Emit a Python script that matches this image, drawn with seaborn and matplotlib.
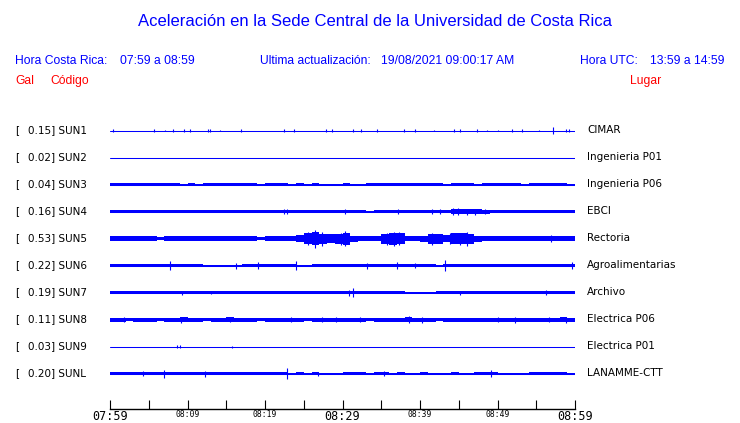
import numpy as np
import pandas as pd
import matplotlib
matplotlib.use("Agg")
import matplotlib.pyplot as plt
import seaborn as sns

# ---------------- data ----------------
codes = ["SUN1", "SUN2", "SUN3", "SUN4", "SUN5", "SUN6", "SUN7", "SUN8", "SUN9", "SUNL"]
gal_max = [0.15, 0.02, 0.04, 0.16, 0.53, 0.22, 0.19, 0.11, 0.03, 0.20]
places = ["CIMAR", "Ingenieria P01", "Ingenieria P06", "EBCI", "Rectoria",
          "Agroalimentarias", "Archivo", "Electrica P06", "Electrica P01", "LANAMME-CTT"]

tick_minutes = [0, 5, 10, 15, 20, 25, 30, 35, 40, 45, 50, 55, 60]
tick_labels = ["07:59", "", "08:09", "", "08:19", "", "08:29", "", "08:39", "", "08:49", "", "08:59"]
big_labels = ["07:59", "08:29", "08:59"]

# envelope half-amplitude (px) per one-minute bin
env_sun3 = [1.2, 1.4, 1.4, 1.1, 1.2, 1.1, 1.4, 1.1, 1.4, 1.0, 1.1, 0.9, 1.4, 1.3, 1.1, 1.3, 1.2, 1.2, 1.4, 0.8,
            1.2, 1.2, 1.1, 1.0, 1.1, 0.8, 1.4, 1.0, 0.8, 1.0, 1.2, 0.8, 1.0, 1.2, 1.3, 1.3, 1.1, 1.2, 1.1, 1.2,
            1.2, 1.2, 1.2, 1.0, 1.3, 1.3, 1.2, 0.9, 1.4, 1.4, 1.4, 1.3, 1.2, 0.6, 1.3, 1.4, 1.4, 1.3, 1.1, 0.6]
env_sun4 = [1.6, 1.4, 1.5, 1.1, 1.4, 1.3, 1.6, 1.3, 1.3, 1.6, 1.3, 1.6, 1.4, 1.4, 1.4, 1.6, 1.3, 1.6, 1.6, 1.6,
            1.7, 1.6, 1.8, 1.7, 1.6, 1.7, 1.6, 1.7, 1.6, 1.7, 1.6, 1.3, 1.2, 1.0, 1.5, 1.7, 1.7, 1.9, 1.7, 1.7,
            1.7, 1.8, 1.8, 1.7, 2.3, 2.4, 2.3, 2.2, 2.0, 1.8, 1.7, 1.7, 1.7, 1.7, 1.7, 1.6, 1.6, 1.7, 1.6, 1.7]
env_sun5 = [2.2, 2.3, 2.4, 2.3, 2.5, 2.3, 1.8, 2.2, 2.3, 2.4, 2.3, 2.3, 2.2, 2.3, 2.3, 2.2, 2.4, 2.3, 2.2, 1.8,
            2.3, 2.2, 2.3, 2.4, 3.5, 5.5, 6.5, 5.0, 4.5, 5.0, 6.0, 3.0, 2.6, 2.4, 2.3, 5.0, 6.0, 5.5, 2.4, 2.6,
            3.0, 5.0, 5.0, 3.5, 5.5, 5.5, 5.0, 3.0, 2.4, 2.3, 2.3, 2.2, 2.3, 2.4, 2.5, 2.4, 2.8, 2.6, 2.4, 2.3]
env_sun6 = [1.5, 1.4, 1.5, 1.2, 1.5, 1.4, 1.2, 1.5, 1.5, 1.4, 1.5, 1.2, 0.8, 0.9, 0.8, 0.9, 1.0, 1.5, 1.4, 1.3,
            1.3, 1.3, 1.4, 1.4, 0.8, 0.6, 1.4, 1.5, 1.5, 1.4, 1.5, 1.3, 1.4, 1.5, 1.4, 1.3, 1.2, 1.3, 1.5, 1.5,
            1.5, 1.4, 0.8, 1.5, 1.4, 1.3, 1.4, 1.3, 1.5, 1.5, 1.4, 1.3, 1.4, 1.5, 1.4, 1.5, 1.4, 1.5, 1.4, 1.2]
env_sun7 = [1.6, 1.6, 1.6, 1.4, 1.5, 1.3, 1.4, 1.6, 1.6, 1.6, 1.6, 1.6, 1.3, 1.4, 1.4, 1.6, 1.3, 1.5, 1.6, 1.4,
            1.4, 1.5, 1.4, 1.5, 1.4, 1.5, 1.6, 1.6, 1.6, 1.6, 1.6, 1.8, 1.6, 1.6, 1.6, 1.6, 1.6, 1.5, 1.0, 0.9,
            0.8, 0.9, 1.5, 1.6, 1.6, 1.7, 1.6, 1.6, 1.6, 1.5, 1.6, 1.6, 1.6, 1.6, 1.6, 1.6, 1.7, 1.6, 1.6, 1.6]
env_sun8 = [2.0, 2.0, 1.9, 2.0, 2.0, 2.0, 1.9, 2.0, 2.0, 2.1, 2.0, 2.0, 1.9, 2.0, 2.0, 2.1, 2.0, 2.0, 2.0, 1.9,
            2.0, 2.0, 2.0, 2.0, 2.0, 1.9, 2.0, 2.0, 2.0, 2.0, 2.0, 2.0, 2.0, 1.9, 2.0, 2.0, 2.0, 2.0, 2.1, 2.0,
            2.0, 2.0, 1.9, 2.0, 2.0, 2.0, 2.0, 2.0, 2.0, 2.0, 2.0, 2.0, 2.0, 2.0, 2.0, 2.0, 2.0, 2.0, 2.1, 2.0]
env_sunl = [1.3, 1.5, 1.2, 1.3, 1.5, 1.3, 1.4, 1.2, 1.4, 1.4, 1.4, 1.6, 1.5, 1.4, 1.2, 1.3, 1.2, 1.3, 1.4, 1.2,
            1.2, 1.2, 1.1, 0.5, 1.3, 1.0, 1.6, 0.5, 0.5, 0.5, 1.3, 1.2, 1.2, 0.5, 1.4, 1.2, 1.0, 1.2, 0.5, 0.5,
            1.2, 0.6, 0.6, 1.0, 1.1, 0.5, 0.5, 1.2, 1.1, 1.1, 0.6, 0.5, 1.0, 0.5, 1.4, 1.6, 1.6, 1.6, 1.4, 0.6]

# isolated spikes: minute of spike and half-amplitude (px)
spike_t_sun1 = [0.43, 5.63, 7.14, 8.17, 9.59, 10.37, 12.69, 12.95, 14.24, 16.94, 22.5, 23.8, 27.9, 28.6, 31.3,
                32.4, 34.4, 37.9, 39.4, 41.8, 44.4, 45.2, 47.3, 48.6, 50.0, 51.9, 53.1, 55.3, 57.1, 58.8, 59.2]
spike_a_sun1 = [1.5, 1.5, 0.9, 1.5, 1.5, 1.5, 1.5, 1.2, 0.9, 1.5, 1.5, 1.5, 1.5, 1.5, 1.5,
                1.5, 1.5, 1.8, 1.8, 0.9, 1.5, 1.5, 1.5, 0.9, 0.9, 1.5, 1.5, 0.9, 3.5, 1.5, 1.5]
spike_t_sun4 = [22.5, 22.9, 30.3, 37.2, 41.5, 42.6, 44.3, 44.9, 46.0, 47.1, 48.4]
spike_a_sun4 = [2.5, 2.5, 2.3, 2.3, 2.5, 2.5, 3.2, 3.5, 3.0, 3.0, 2.5]
spike_t_sun5 = [25.6, 26.5, 27.3, 29.8, 30.3, 35.7, 36.7, 37.3, 41.5, 43.9, 45.1, 46.0, 56.9]
spike_a_sun5 = [6.5, 9.0, 7.0, 6.0, 7.5, 6.0, 7.0, 6.5, 6.0, 5.5, 6.0, 7.0, 3.5]
spike_t_sun6 = [7.8, 16.3, 19.1, 24.0, 33.1, 37.0, 39.4, 43.2, 59.6]
spike_a_sun6 = [4.7, 3.0, 3.5, 4.3, 3.0, 3.3, 2.5, 5.5, 3.5]
spike_t_sun7 = [9.3, 13.0, 30.9, 31.3, 45.2, 56.2]
spike_a_sun7 = [2.0, 1.8, 3.0, 4.2, 2.0, 2.6]
spike_t_sun8 = [1.85, 9.1, 15.5, 23.4, 27.4, 29.2, 32.2, 38.6, 40.3, 50.1, 52.3, 56.7, 58.8]
spike_a_sun8 = [2.5, 3.0, 2.8, 2.5, 2.5, 2.2, 2.2, 3.5, 3.0, 2.2, 3.0, 2.5, 3.0]
spike_t_sun9 = [8.6, 9.0, 15.7]
spike_a_sun9 = [1.3, 1.2, 1.0]
spike_t_sunl = [4.3, 7.0, 12.3, 22.8, 26.9, 35.3, 49.2]
spike_a_sunl = [2.5, 4.0, 3.0, 5.7, 2.0, 2.5, 3.7]

envelopes = {"SUN3": env_sun3, "SUN4": env_sun4, "SUN5": env_sun5, "SUN6": env_sun6,
             "SUN7": env_sun7, "SUN8": env_sun8, "SUNL": env_sunl}
spikes = {"SUN1": (spike_t_sun1, spike_a_sun1), "SUN4": (spike_t_sun4, spike_a_sun4),
          "SUN5": (spike_t_sun5, spike_a_sun5), "SUN6": (spike_t_sun6, spike_a_sun6),
          "SUN7": (spike_t_sun7, spike_a_sun7), "SUN8": (spike_t_sun8, spike_a_sun8),
          "SUN9": (spike_t_sun9, spike_a_sun9), "SUNL": (spike_t_sunl, spike_a_sunl)}

# ---------------- layout ----------------
sns.set_style("white")
plt.rcParams["font.family"] = ["DejaVu Sans"]

W, H = 740, 423
BLUE = "#0000ff"
RED = "#ff0000"
fig = plt.figure(figsize=(W / 100, H / 100), dpi=100)


def fx(px):
    return px / W


def fy(py):
    return 1 - py / H


TRACE_GAP = 27          # vertical spacing between traces (px)
FIRST_ROW_PX = 130.5    # centre of first trace, on a pixel row centre
AX_TOP_PX, AX_BOT_PX = 115, 409
ax = fig.add_axes([fx(110), fy(AX_BOT_PX), fx(575) - fx(110), fy(AX_TOP_PX) - fy(AX_BOT_PX)])

base_y = {c: TRACE_GAP * i for i, c in enumerate(codes)}

# baselines via seaborn
rows = []
for c in codes:
    rows.append({"minute": tick_minutes[0], "y": base_y[c], "code": c})
    rows.append({"minute": tick_minutes[-1], "y": base_y[c], "code": c})
df = pd.DataFrame(rows)
sns.lineplot(data=df, x="minute", y="y", units="code", estimator=None,
             color=BLUE, linewidth=0.75, ax=ax, legend=False)

# envelopes
for c, env in envelopes.items():
    e = np.array(env + [env[-1]])
    edges = np.arange(len(e))
    ax.fill_between(edges, base_y[c] - e, base_y[c] + e, step="post", color=BLUE, lw=0)

# spikes
for c, (ts, amps) in spikes.items():
    ts = np.array(ts)
    amps = np.array(amps)
    ax.vlines(ts, base_y[c] - amps, base_y[c] + amps, color=BLUE, lw=0.8)

ax.set_xlim(0, 60)
ax.set_ylim(AX_BOT_PX - FIRST_ROW_PX, AX_TOP_PX - FIRST_ROW_PX)
ax.set_xlabel("")
ax.set_ylabel("")
ax.set_yticks([])
for s in ["top", "left", "right"]:
    ax.spines[s].set_visible(False)
ax.spines["bottom"].set_color("black")
ax.spines["bottom"].set_linewidth(1.0)
ax.set_xticks(tick_minutes)
ax.set_xticklabels(tick_labels)
ax.tick_params(axis="x", direction="in", length=6.5, width=0.8, color="black", pad=0.5,
               bottom=True)
for lab in ax.get_xticklabels():
    lab.set_family("DejaVu Sans Mono")
    lab.set_color("black")
    if lab.get_text() in big_labels:
        lab.set_fontsize(8.5)
    else:
        lab.set_fontsize(5.8)

# ---------------- texts ----------------
HEAD = "Liberation Sans"
fig.text(fx(375), fy(22), "Aceleración en la Sede Central de la Universidad de Costa Rica",
         ha="center", va="center", color=BLUE, fontsize=12, family=HEAD)
fig.text(fx(15), fy(61), "Hora Costa Rica:", ha="left", va="center", color=BLUE, fontsize=8.7, family=HEAD)
fig.text(fx(120), fy(61), "07:59 a 08:59", ha="left", va="center", color=BLUE, fontsize=8.7, family=HEAD)
fig.text(fx(260), fy(61), "Ultima actualización:", ha="left", va="center", color=BLUE, fontsize=8.7, family=HEAD)
fig.text(fx(381), fy(61), "19/08/2021 09:00:17 AM", ha="left", va="center", color=BLUE, fontsize=8.7, family=HEAD)
fig.text(fx(580), fy(61), "Hora UTC:", ha="left", va="center", color=BLUE, fontsize=8.7, family=HEAD)
fig.text(fx(650), fy(61), "13:59 a 14:59", ha="left", va="center", color=BLUE, fontsize=8.7, family=HEAD)
fig.text(fx(15), fy(81), "Gal", ha="left", va="center", color=RED, fontsize=8.7, family=HEAD)
fig.text(fx(50), fy(81), "Código", ha="left", va="center", color=RED, fontsize=8.7, family=HEAD)
fig.text(fx(630), fy(81), "Lugar", ha="left", va="center", color=RED, fontsize=8.7, family=HEAD)

for i, (c, g, p) in enumerate(zip(codes, gal_max, places)):
    ypx = 130 + TRACE_GAP * i
    fig.text(fx(15), fy(ypx), "[", ha="left", va="center", color="black", fontsize=7.5)
    fig.text(fx(28), fy(ypx), f"{g:.2f}] {c}", ha="left", va="center", color="black", fontsize=7.5)
    fig.text(fx(587), fy(ypx), p, ha="left", va="center", color="black", fontsize=7.5)

fig.savefig("out.png", dpi=100)
